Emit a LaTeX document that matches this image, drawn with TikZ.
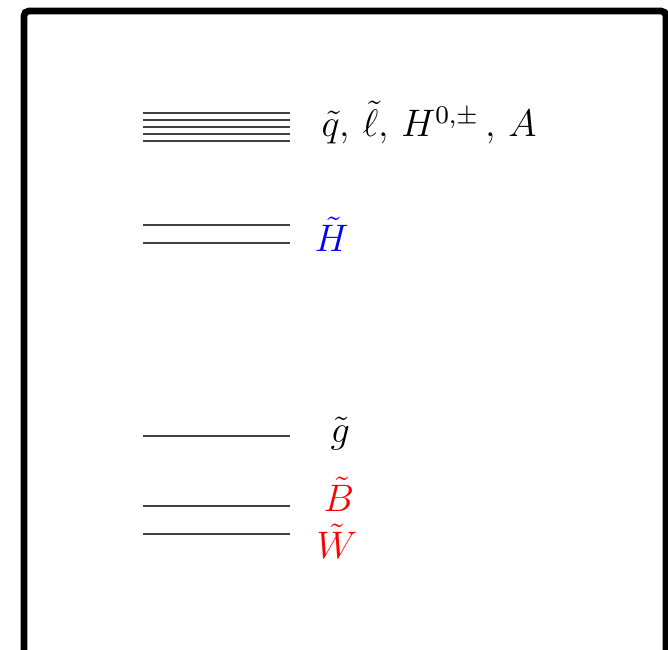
\documentclass[tikz,border=0pt]{standalone}
\usepackage{xcolor}
\usepackage{amsmath}
\usetikzlibrary{positioning}
\definecolor{levelgray}{RGB}{65,65,65}
\definecolor{higgsino}{RGB}{0,0,255}
\definecolor{gaugino}{RGB}{255,0,0}

\begin{document}
\begin{tikzpicture}[x=0.011cm,y=-0.011cm,
    level/.style={draw=levelgray,line width=0.7pt},
    lbl/.style={anchor=base west,inner sep=0pt,font=\large}]
  \useasboundingbox (0,0) rectangle (668,650);
  % frame
  \draw[line width=2.1pt,rounded corners=1.5pt] (24,652) -- (24,11) -- (666,11) -- (666,652);
  % heavy states
  \foreach \y in {113,120,127,134,141}
    \draw[level] (143,\y) -- (290,\y);
  \node[lbl] (heavy) at (321,137) {$\tilde{q}$, $\tilde{\ell}$, $H^{0,\pm}$\,, $A$};
  % higgsinos
  \foreach \y in {225,243}
    \draw[level] (143,\y) -- (290,\y);
  \node[lbl,text=higgsino] (higgs) at (314,252) {$\tilde{H}$};
  % gluino
  \draw[level] (143,436) -- (290,436);
  \node[lbl] (gluino) at (330,443) {$\tilde{g}$};
  % bino and wino
  \draw[level] (143,506) -- (290,506);
  \draw[level] (143,534) -- (290,534);
  \node[lbl,text=gaugino] (bino) at (323,512) {$\tilde{B}$};
  \node[lbl,text=gaugino] (wino) at (316,559) {$\tilde{W}$};
\end{tikzpicture}
\end{document}
